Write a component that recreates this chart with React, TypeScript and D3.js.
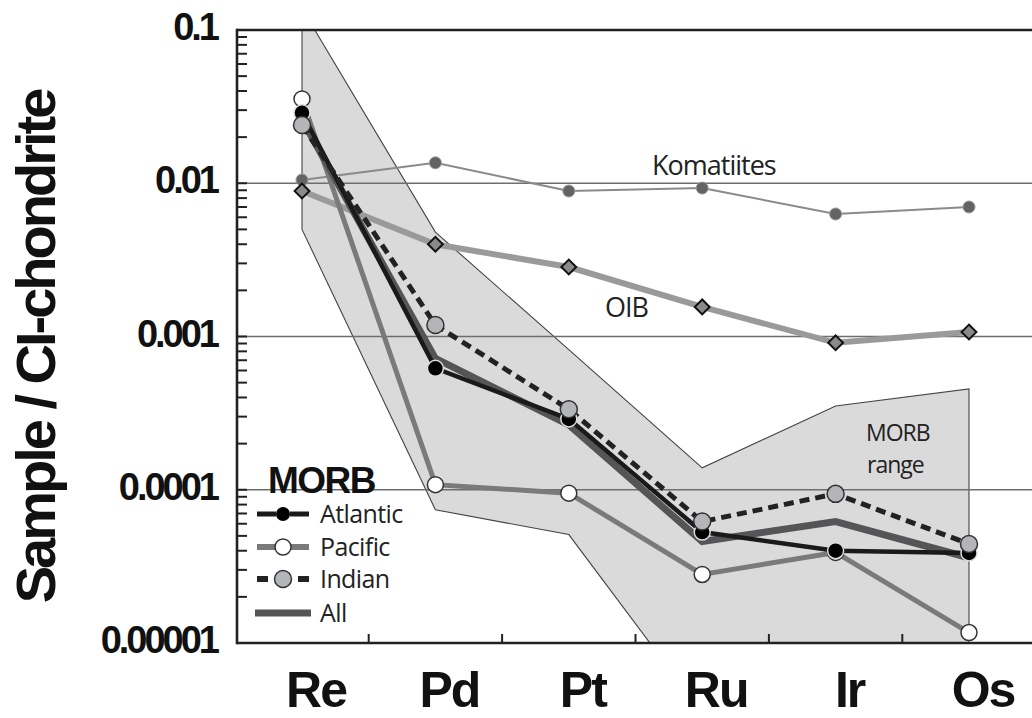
import React, { useEffect, useRef } from 'react'
import * as d3 from 'd3'

// PGE + Re patterns normalised to CI chondrite
const elements = ['Re', 'Pd', 'Pt', 'Ru', 'Ir', 'Os']
const atlantic = [0.0288, 0.00062, 0.00029, 0.000053, 0.00004, 0.0000387]
const pacific = [0.0355, 0.000108, 0.000095, 0.000028, 0.000039, 0.0000117]
const indian = [0.024, 0.00119, 0.000335, 0.000062, 0.000094, 0.0000443]
const allMorb = [0.026, 0.00072, 0.000265, 0.000046, 0.000062, 0.000036]
const komatiites = [0.0105, 0.0136, 0.0089, 0.0093, 0.0063, 0.007]
const oib = [0.0089, 0.004, 0.00284, 0.00156, 0.00091, 0.00107]
const morbUpper = [0.138, 0.0048, 0.00082, 0.000139, 0.000352, 0.000455]
const morbLower = [0.005, 0.000074, 0.000051, 0.0000035, 0.0000035, 0.0000035]
const yTicks = [0.1, 0.01, 0.001, 0.0001, 0.00001]
const yTickLabels = ['0.1', '0.01', '0.001', '0.0001', '0.00001']
const legendItems = ['Atlantic', 'Pacific', 'Indian', 'All']

const W = 1032
const H = 718

export default function App() {
  const ref = useRef<SVGSVGElement>(null)

  useEffect(() => {
    const svg = d3.select(ref.current)
    svg.selectAll('*').remove()

    const left = 237, top = 30, bottom = 643, right = W

    const x = d3.scalePoint<string>().domain(elements).range([302, 969])
    const y = d3.scaleLog().domain([0.00001, 0.1]).range([bottom, top])

    const defs = svg.append('defs')
    defs.append('clipPath').attr('id', 'plotClip')
      .append('rect')
      .attr('x', left).attr('y', top)
      .attr('width', right - left).attr('height', bottom - top)

    const plot = svg.append('g').attr('clip-path', 'url(#plotClip)')

    // MORB range polygon
    const polyPts: [number, number][] = [
      ...elements.map((e, i) => [x(e)!, y(morbUpper[i])] as [number, number]),
      ...elements.map((e, i) => [x(e)!, y(morbLower[i])] as [number, number]).reverse(),
    ]
    plot.append('path')
      .attr('d', d3.line()(polyPts) + 'Z')
      .attr('fill', '#dadadb')
      .attr('stroke', '#444')
      .attr('stroke-width', 1.1)

    // horizontal grid lines
    plot.selectAll('.grid')
      .data(yTicks.slice(1, 4))
      .enter()
      .append('line')
      .attr('x1', left).attr('x2', right)
      .attr('y1', d => y(d)).attr('y2', d => y(d))
      .attr('stroke', '#6e6e6e')
      .attr('stroke-width', 1.3)

    const line = d3.line<number>()
      .x((_, i) => x(elements[i])!)
      .y(d => y(d))

    // Komatiites
    plot.append('path').attr('d', line(komatiites))
      .attr('fill', 'none').attr('stroke', '#8a8a8a').attr('stroke-width', 2)
    plot.selectAll('.kom').data(komatiites).enter().append('circle')
      .attr('cx', (_, i) => x(elements[i])!).attr('cy', d => y(d)).attr('r', 6)
      .attr('fill', '#636363').attr('stroke', '#999').attr('stroke-width', 1)

    // OIB
    plot.append('path').attr('d', line(oib))
      .attr('fill', 'none').attr('stroke', '#9a9a9c').attr('stroke-width', 6)
    const diamond = d3.symbol().type(d3.symbolSquare).size(110)
    plot.selectAll('.oib').data(oib).enter().append('path')
      .attr('d', diamond()!)
      .attr('transform', (d, i) => `translate(${x(elements[i])},${y(d)}) rotate(45)`)
      .attr('fill', '#8a8a8c').attr('stroke', '#111').attr('stroke-width', 2)

    // MORB lines
    plot.append('path').attr('d', line(pacific))
      .attr('fill', 'none').attr('stroke', '#7a7a7a').attr('stroke-width', 5)
    plot.append('path').attr('d', line(allMorb))
      .attr('fill', 'none').attr('stroke', '#555557').attr('stroke-width', 7)
    plot.append('path').attr('d', line(atlantic))
      .attr('fill', 'none').attr('stroke', '#1a1a1a').attr('stroke-width', 4.5)
    plot.append('path').attr('d', line(indian))
      .attr('fill', 'none').attr('stroke', '#222').attr('stroke-width', 5)
      .attr('stroke-dasharray', '10,6')

    plot.selectAll('.pac').data(pacific).enter().append('circle')
      .attr('cx', (_, i) => x(elements[i])!).attr('cy', d => y(d)).attr('r', 8)
      .attr('fill', '#fff').attr('stroke', '#333').attr('stroke-width', 1.5)
    plot.selectAll('.atl').data(atlantic).enter().append('circle')
      .attr('cx', (_, i) => x(elements[i])!).attr('cy', d => y(d)).attr('r', 8)
      .attr('fill', '#000').attr('stroke', '#ddd').attr('stroke-width', 1.5)
    plot.selectAll('.ind').data(indian).enter().append('circle')
      .attr('cx', (_, i) => x(elements[i])!).attr('cy', d => y(d)).attr('r', 8.5)
      .attr('fill', '#b4b5b9').attr('stroke', '#333').attr('stroke-width', 1.5)

    // frame
    const frame = svg.append('g').attr('stroke', '#222').attr('stroke-width', 2.6)
    frame.append('line').attr('x1', left).attr('x2', right).attr('y1', top).attr('y2', top)
    frame.append('line').attr('x1', left).attr('x2', right).attr('y1', bottom).attr('y2', bottom)
    frame.append('line').attr('x1', left).attr('x2', left).attr('y1', top - 1.3).attr('y2', bottom + 1.3)

    // left ticks, inward, every 1..9 of each decade
    const minor: number[] = []
    for (let e = -5; e < -1; e++) for (let m = 1; m < 10; m++) minor.push(m * Math.pow(10, e))
    svg.append('g').selectAll('line').data(minor).enter().append('line')
      .attr('x1', left).attr('x2', left + 10)
      .attr('y1', d => y(d)).attr('y2', d => y(d))
      .attr('stroke', '#222').attr('stroke-width', 2)

    // bottom ticks between categories
    const mids = elements.slice(1).map((e, i) => (x(e)! + x(elements[i])!) / 2)
    svg.append('g').selectAll('line').data(mids).enter().append('line')
      .attr('x1', d => d).attr('x2', d => d)
      .attr('y1', bottom).attr('y2', bottom - 9)
      .attr('stroke', '#222').attr('stroke-width', 2)

    // y tick labels
    svg.append('g').selectAll('text').data(yTicks).enter().append('text')
      .attr('x', 217).attr('y', d => y(d) + 10)
      .attr('text-anchor', 'end')
      .style('font-family', '"Liberation Sans", Arial, sans-serif')
      .style('font-weight', 'bold').style('font-size', '38px').style('letter-spacing', '-3px')
      .attr('fill', '#111')
      .text((_, i) => yTickLabels[i])

    // x labels
    svg.append('g').selectAll('text').data(elements).enter().append('text')
      .attr('x', d => x(d)! + 14).attr('y', 707)
      .attr('text-anchor', 'middle')
      .style('font-family', '"Liberation Sans", Arial, sans-serif')
      .style('font-weight', 'bold').style('font-size', '50px').style('letter-spacing', '-2px')
      .attr('fill', '#111')
      .text(d => d)

    // y axis title
    svg.append('text')
      .attr('transform', 'translate(55,347) rotate(-90)')
      .attr('text-anchor', 'middle')
      .style('font-family', '"Liberation Sans", Arial, sans-serif')
      .style('font-weight', 'bold').style('font-size', '56px').style('letter-spacing', '-3px')
      .attr('fill', '#111')
      .text('Sample / CI-chondrite')

    // annotations
    const note = (tx: number, ty: number, s: string, size = 27) =>
      svg.append('text').attr('x', tx).attr('y', ty)
        .style('font-family', '"Open Sans", sans-serif').style('font-size', size + 'px')
        .style('letter-spacing', '-1px')
        .attr('fill', '#222').text(s)
    note(652, 175, 'Komatiites')
    note(605, 317, 'OIB')
    note(866, 441, 'MORB', 23)
    note(867, 473, 'range', 23)

    // legend
    const lg = svg.append('g')
    lg.append('text').attr('x', 268).attr('y', 493)
      .style('font-family', '"Liberation Sans", Arial, sans-serif')
      .style('font-weight', 'bold').style('font-size', '37px').style('letter-spacing', '-1.5px')
      .attr('fill', '#111').text('MORB')
    const ly = [514, 547, 579, 613]
    const cx = 283
    // Atlantic
    lg.append('line').attr('x1', 257).attr('x2', 276).attr('y1', ly[0]).attr('y2', ly[0])
      .attr('stroke', '#1a1a1a').attr('stroke-width', 5)
    lg.append('line').attr('x1', 290).attr('x2', 309).attr('y1', ly[0]).attr('y2', ly[0])
      .attr('stroke', '#1a1a1a').attr('stroke-width', 5)
    lg.append('circle').attr('cx', cx).attr('cy', ly[0]).attr('r', 7).attr('fill', '#000')
    // Pacific
    lg.append('line').attr('x1', 257).attr('x2', 309).attr('y1', ly[1]).attr('y2', ly[1])
      .attr('stroke', '#7a7a7a').attr('stroke-width', 6)
    lg.append('circle').attr('cx', cx).attr('cy', ly[1]).attr('r', 8)
      .attr('fill', '#fff').attr('stroke', '#333').attr('stroke-width', 1.5)
    // Indian
    lg.append('line').attr('x1', 257).attr('x2', 268).attr('y1', ly[2]).attr('y2', ly[2])
      .attr('stroke', '#222').attr('stroke-width', 6)
    lg.append('line').attr('x1', 298).attr('x2', 309).attr('y1', ly[2]).attr('y2', ly[2])
      .attr('stroke', '#222').attr('stroke-width', 6)
    lg.append('circle').attr('cx', cx).attr('cy', ly[2]).attr('r', 8.5)
      .attr('fill', '#b4b5b9').attr('stroke', '#333').attr('stroke-width', 1.5)
    // All
    lg.append('line').attr('x1', 255).attr('x2', 311).attr('y1', ly[3]).attr('y2', ly[3])
      .attr('stroke', '#555557').attr('stroke-width', 7)
    lg.selectAll('.lt').data(legendItems).enter().append('text')
      .attr('x', 320).attr('y', (_, i) => ly[i] + 9)
      .style('font-family', '"Open Sans", sans-serif').style('font-size', '25px')
      .style('letter-spacing', '-0.6px')
      .attr('fill', '#222').text(d => d)
  }, [])

  return (
    <svg ref={ref} width={W} height={H}
      style={{ position: 'absolute', left: 0, top: 0, background: '#fff' }} />
  )
}
